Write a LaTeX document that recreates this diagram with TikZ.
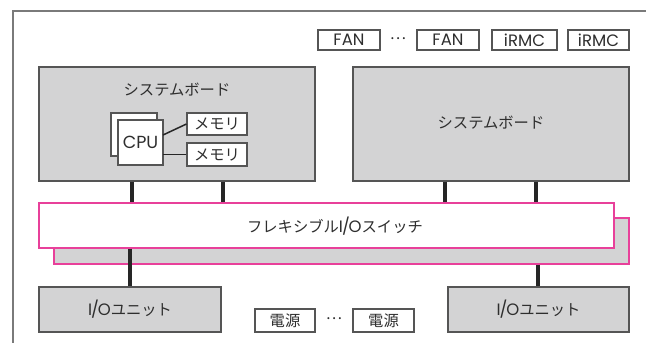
\documentclass[tikz,border=0pt]{standalone}
\usepackage{fontspec}
\setmainfont{Poppins}
\newfontfamily\cjk{Noto Sans CJK JP}
\newcommand\jp[1]{{\fontsize{15.3}{16}\cjk #1}}
\newcommand\IOtxt{I\kern-0.9pt/\kern-1.2pt O}
\definecolor{boxgray}{HTML}{D3D3D4}
\definecolor{edgegray}{HTML}{555555}
\definecolor{txt}{HTML}{2E2E2E}
\definecolor{pink}{HTML}{E8409A}
\definecolor{framegray}{HTML}{7A7A7A}
\tikzset{
  board/.style={draw=edgegray, fill=boxgray, line width=1.3pt, inner sep=0pt},
  smallbox/.style={draw=edgegray, fill=white, line width=1.1pt, inner sep=0pt, text=txt, font=\fontsize{16.5}{17}\selectfont},
  switchbox/.style={draw=pink, line width=1.3pt, inner sep=0pt},
  bus/.style={line width=3.3pt, draw=black!85},
  thin/.style={line width=1.5pt, draw=black!85},
  lbl/.style={text=txt, inner sep=0pt, font=\fontsize{16.5}{17}\selectfont},
}
\begin{document}
\begin{tikzpicture}[x=1pt,y=-1pt]
\useasboundingbox (0,0) rectangle (646,346);
% frame
\coordinate (ftl) at (13,11);
\coordinate (ftr) at (646,11);
\coordinate (fbl) at (13,343);
\draw[framegray, line width=1.1pt] (ftr) -- (ftl) -- (fbl);
% x positions of connectors
\coordinate (xa) at (132,0);
\coordinate (xb) at (223,0);
\coordinate (xc) at (445,0);
\coordinate (xd) at (536,0);
\coordinate (xe) at (130,0);
\coordinate (xf) at (538,0);
% top small boxes
\node[smallbox, minimum width=62pt, minimum height=20pt] (fan1) at (349,40) {FAN};
\node[lbl] (dots1) at (398,39) {\jp{…}};
\node[smallbox, minimum width=62pt, minimum height=20pt] (fan2) at (448,40) {FAN};
\node[smallbox, minimum width=65pt, minimum height=20pt] (irmc1) at (524.5,40) {iRMC};
\node[smallbox, minimum width=61pt, minimum height=20pt] (irmc2) at (598.5,40) {iRMC};
% boards
\node[board, minimum width=276pt, minimum height=114pt] (lb) at (177,124) {};
\node[lbl] (lbt) at (177,90) {\jp{システムボード}};
\node[board, minimum width=276pt, minimum height=114pt] (rb) at (491,124) {};
\node[lbl] (rbt) at (491,123) {\jp{システムボード}};
% CPU
\node[smallbox, minimum width=46pt, minimum height=43pt] (cpub) at (134,134.5) {};
\node[smallbox, minimum width=45pt, minimum height=45pt, font=\fontsize{17.5}{18}\selectfont] (cpu) at (140.5,142.5) {CPU};
\node[smallbox, minimum width=60pt, minimum height=22pt] (m1) at (217,124) {\jp{メモリ}};
\node[smallbox, minimum width=60pt, minimum height=23pt] (m2) at (217,154.5) {\jp{メモリ}};
\coordinate (c1) at (163,135);
\coordinate (c2) at (163,154.5);
\draw[thin] (c1) -- (m1.west);
\draw[thin] (c2) -- (m2.west);
% switch
\node[switchbox, fill=boxgray, minimum width=575pt, minimum height=46pt] (swb) at (341.5,241) {};
\node[switchbox, fill=white, minimum width=575pt, minimum height=45pt] (sw) at (326.5,225.5) {};
\node[lbl] (swt) at (335,226) {\jp{フレキシブル}\IOtxt\jp{スイッチ}};
% IO units
\node[board, minimum width=182pt, minimum height=45pt] (io1) at (130,309.5) {};
\node[lbl] (io1t) at (130,309.5) {\IOtxt\jp{ユニット}};
\node[board, minimum width=181pt, minimum height=45pt] (io2) at (538.5,309.5) {};
\node[lbl] (io2t) at (538.5,309.5) {\IOtxt\jp{ユニット}};
% power
\node[smallbox, minimum width=60pt, minimum height=23pt] (p1) at (285,320.5) {\jp{電源}};
\node[lbl] (dots2) at (334,319) {\jp{…}};
\node[smallbox, minimum width=61pt, minimum height=23pt] (p2) at (383.5,320.5) {\jp{電源}};
% buses
\draw[bus] (lb.south -| xa) -- (sw.north -| xa);
\draw[bus] (lb.south -| xb) -- (sw.north -| xb);
\draw[bus] (rb.south -| xc) -- (sw.north -| xc);
\draw[bus] (rb.south -| xd) -- (sw.north -| xd);
\draw[bus] (sw.south -| xe) -- (io1.north -| xe);
\draw[bus] (swb.south -| xf) -- (io2.north -| xf);
\end{tikzpicture}
\end{document}
